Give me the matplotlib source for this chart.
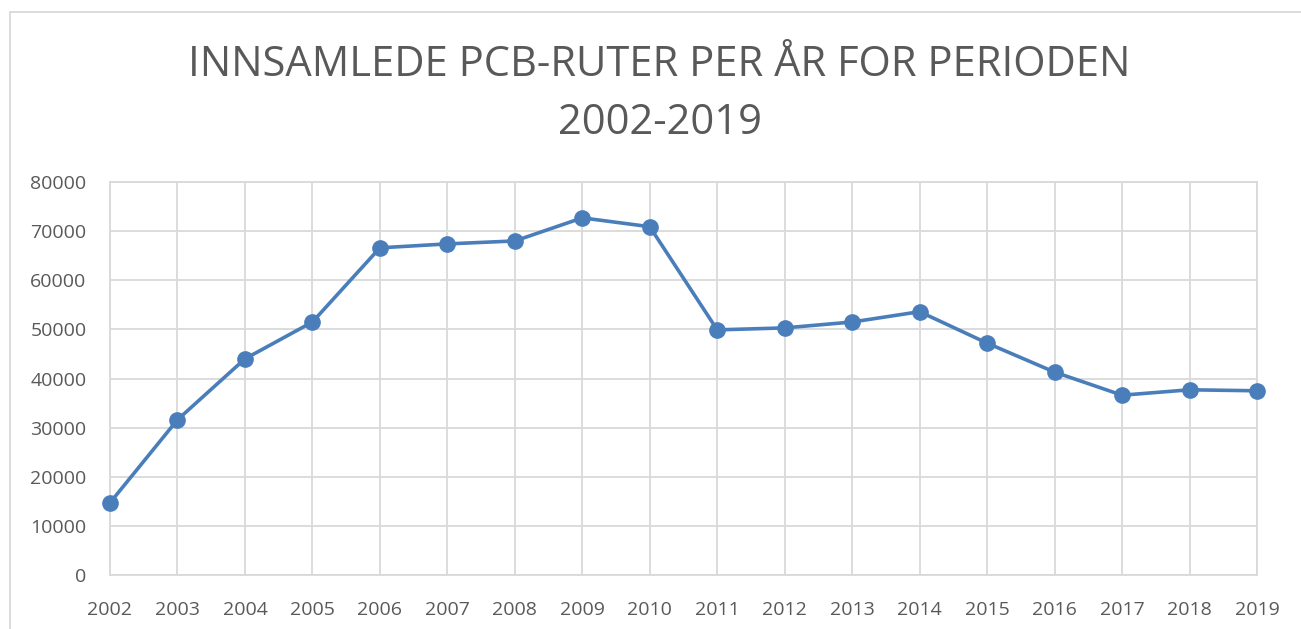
import matplotlib.pyplot as plt
from matplotlib.patches import Rectangle

# data
years = list(range(2002, 2020))
routes = [14700, 31600, 44000, 51500, 66600, 67400, 68000, 72700, 70900,
          49900, 50300, 51500, 53600, 47200, 41300, 36600, 37700, 37500]
yticks = [0, 10000, 20000, 30000, 40000, 50000, 60000, 70000, 80000]

plt.rcParams['font.family'] = ['Open Sans', 'DejaVu Sans']
grey = '#595959'

fig = plt.figure(figsize=(13.01, 6.29), dpi=100)
ax = fig.add_axes([110 / 1301, 54 / 629, 1147 / 1301, 393 / 629])

ax.plot(years, routes, color='#4a7ebb', lw=2.6, marker='o', ms=11,
        zorder=3, clip_on=False)

ax.set_xlim(years[0], years[-1])
ax.set_ylim(0, 80000)
ax.set_xticks(years)
ax.set_yticks(yticks)
ax.grid(True, color='#d9d9d9', lw=1.3)
for s in ax.spines.values():
    s.set_color('#d9d9d9')
    s.set_linewidth(1.3)
ax.tick_params(length=0, labelsize=14, labelcolor=grey)
ax.tick_params(axis='x', pad=19)
ax.tick_params(axis='y', pad=17)

fig.text(0.507, 1 - 65 / 629, 'INNSAMLEDE PCB-RUTER PER ÅR FOR PERIODEN',
         ha='center', va='center', fontsize=30, color=grey)
fig.text(0.507, 1 - 123 / 629, '2002-2019', ha='center', va='center',
         fontsize=30, color=grey)

# outer chart frame
fig.patches.append(Rectangle((10 / 1301, -0.01), 1.0, 1.01 - 12 / 629,
                             transform=fig.transFigure, fill=False,
                             ec='#d9d9d9', lw=1.3))

fig.savefig('out.png', dpi=100)
